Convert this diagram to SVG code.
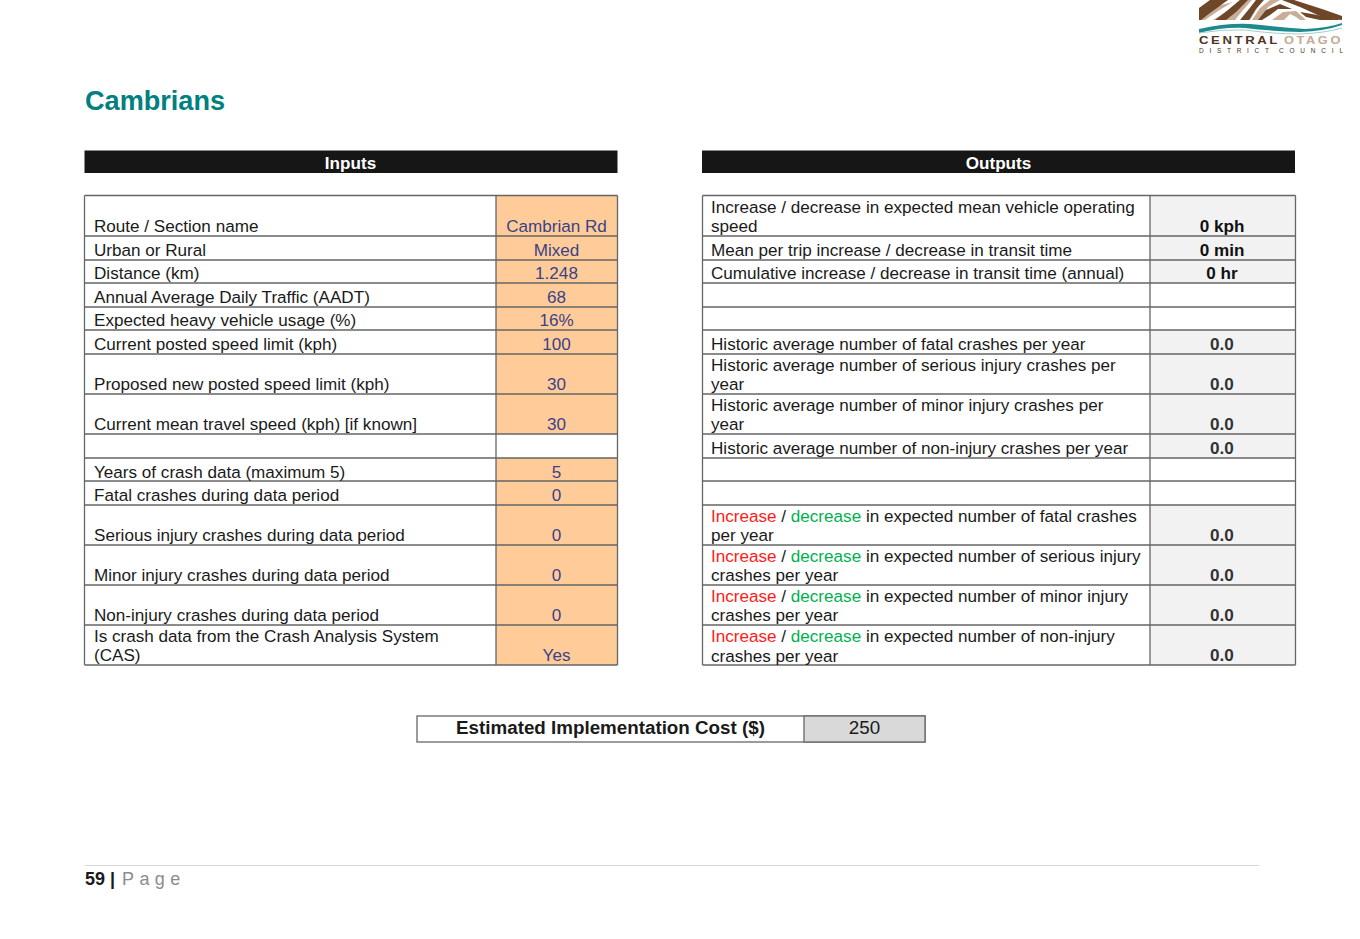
<svg xmlns="http://www.w3.org/2000/svg" width="1360" height="939" viewBox="0 0 1360 939">
<style>
text{font-family:"Liberation Sans",Arial,sans-serif;font-size:17.1px;fill:#1a1a1a}
.g{fill:none;stroke:#666;stroke-width:1.3}
.c{text-anchor:middle}
.v{text-anchor:middle;fill:#3b4285}
.b{font-weight:700}
.o{text-anchor:middle;font-weight:700;fill:#333}
.r{fill:#ff1a1a}
.n{fill:#00b050}
.h{fill:#fff;font-weight:700;text-anchor:middle}
.br{fill:#6e4628}
.tn{fill:#c8ae98}
</style>
<rect width="1360" height="939" fill="#fff"/>
<g id="logo">
<path class="tn" d="M1199 20 L1214 7 L1240 0 L1262 0 L1250 20Z"/>
<path class="br" d="M1199 8 L1210 0 L1228 0 L1210 13 L1201 20 L1199 20Z"/>
<path d="M1205 20 L1218 11 L1236 0 L1240 0 L1226 12 L1213 20Z" fill="#fff"/>
<path class="br" d="M1215 20 L1228 10 L1240 0 L1248 0 L1236 12 L1226 20Z"/>
<path d="M1235 20 L1243 10 L1252 0 L1256 0 L1248 12 L1241 20Z" fill="#fff"/>
<path class="br" d="M1240 20 L1249 9 L1256 0 L1264 0 L1256 9 L1249 20Z"/>
<path class="tn" d="M1252 20 L1260 8 L1270 0 L1280 0 L1268 7 L1260 20Z"/>
<path class="br" d="M1258 20 L1266 10 L1280 4 L1292 9 L1278 9 L1270 15 L1262 20Z"/>
<path class="br" d="M1282 0 L1294 0 L1322 9 L1342 16 L1342 20 L1322 17 L1300 7Z"/>
<path class="tn" d="M1272 20 L1283 12 L1296 11 L1306 20Z"/>
<path d="M1284 20 L1290 14 L1296 17 L1300 20Z" fill="#fff"/>
<path class="br" d="M1300 12 L1312 14 L1342 20 L1320 20 L1306 17Z"/>
<path d="M1199 29 Q1225 23 1250 24 Q1280 27 1305 29 Q1328 28 1342 23 L1342 25 Q1325 31 1300 32 Q1270 31 1245 28 Q1222 27 1199 33Z" fill="#1f8a8c"/>
<path d="M1199 33 Q1222 29 1245 30 Q1275 34 1300 34 Q1325 33 1342 28" fill="none" stroke="#9fcfcf" stroke-width="1"/>
<text x="1199" y="44" textLength="81" lengthAdjust="spacingAndGlyphs" style="font-size:10px;font-weight:700;letter-spacing:2px;fill:#4f3524">CENTRAL</text>
<text x="1284" y="44" textLength="59" lengthAdjust="spacingAndGlyphs" style="font-size:10px;font-weight:700;letter-spacing:2px;fill:#c4ab95">OTAGO</text>
<text x="1199" y="53" textLength="70" lengthAdjust="spacing" style="font-size:6.5px;fill:#4f3524">DISTRICT</text>
<text x="1279" y="53" textLength="64" lengthAdjust="spacing" style="font-size:6.5px;fill:#4f3524">COUNCIL</text>
</g>
<text id="title" x="85" y="110" class="b" style="font-size:27.1px;fill:#008080">Cambrians</text>
<g id="inputs-header"><rect x="84.500" y="150.500" width="533" height="22.500" fill="#161616"/><text x="350.500" y="169" class="h">Inputs</text></g>
<g id="outputs-header"><rect x="702" y="150.500" width="593" height="22.500" fill="#161616"/><text x="998.500" y="169" class="h">Outputs</text></g>
<g id="fills">
<rect x="496" y="196" width="121" height="238" fill="#ffcc99"/>
<rect x="496" y="458" width="121" height="207" fill="#ffcc99"/>
<rect x="1150" y="196" width="145" height="87" fill="#f2f2f2"/>
<rect x="1150" y="330" width="145" height="128" fill="#f2f2f2"/>
<rect x="1150" y="505" width="145" height="160" fill="#f2f2f2"/>
</g>
<g id="grid">
<path class="g" d="M84.500 195.500H617.500M84.500 236H617.500M84.500 260H617.500M84.500 283H617.500M84.500 307H617.500M84.500 330H617.500M84.500 354H617.500M84.500 394H617.500M84.500 434H617.500M84.500 458H617.500M84.500 481H617.500M84.500 505H617.500M84.500 545H617.500M84.500 585H617.500M84.500 625H617.500M84.500 665H617.500"/>
<path class="g" d="M702.500 195.500H1295.500M702.500 236H1295.500M702.500 260H1295.500M702.500 283H1295.500M702.500 307H1295.500M702.500 330H1295.500M702.500 354H1295.500M702.500 394H1295.500M702.500 434H1295.500M702.500 458H1295.500M702.500 481H1295.500M702.500 505H1295.500M702.500 545H1295.500M702.500 585H1295.500M702.500 625H1295.500M702.500 665H1295.500"/>
<path class="g" d="M84.500 195.500V665M496 195.500V665M617.500 195.500V665M702.500 195.500V665M1150 195.500V665M1295.500 195.500V665"/>
</g>
<g id="input-labels">
<text x="94" y="232">Route / Section name</text>
<text x="94" y="256">Urban or Rural</text>
<text x="94" y="279">Distance (km)</text>
<text x="94" y="303">Annual Average Daily Traffic (AADT)</text>
<text x="94" y="326">Expected heavy vehicle usage (%)</text>
<text x="94" y="350">Current posted speed limit (kph)</text>
<text x="94" y="390">Proposed new posted speed limit (kph)</text>
<text x="94" y="430">Current mean travel speed (kph) [if known]</text>
<text x="94" y="478">Years of crash data (maximum 5)</text>
<text x="94" y="501">Fatal crashes during data period</text>
<text x="94" y="541">Serious injury crashes during data period</text>
<text x="94" y="581">Minor injury crashes during data period</text>
<text x="94" y="621">Non-injury crashes during data period</text>
<text x="94" y="642">Is crash data from the Crash Analysis System</text>
<text x="94" y="661">(CAS)</text>
</g>
<g id="input-values">
<text x="556.500" y="232" class="v">Cambrian Rd</text>
<text x="556.500" y="256" class="v">Mixed</text>
<text x="556.500" y="279" class="v">1.248</text>
<text x="556.500" y="303" class="v">68</text>
<text x="556.500" y="326" class="v">16%</text>
<text x="556.500" y="350" class="v">100</text>
<text x="556.500" y="390" class="v">30</text>
<text x="556.500" y="430" class="v">30</text>
<text x="556.500" y="478" class="v">5</text>
<text x="556.500" y="501" class="v">0</text>
<text x="556.500" y="541" class="v">0</text>
<text x="556.500" y="581" class="v">0</text>
<text x="556.500" y="621" class="v">0</text>
<text x="556.500" y="661" class="v">Yes</text>
</g>
<g id="output-labels">
<text x="711" y="213">Increase / decrease in expected mean vehicle operating</text>
<text x="711" y="232">speed</text>
<text x="711" y="256">Mean per trip increase / decrease in transit time</text>
<text x="711" y="279">Cumulative increase / decrease in transit time (annual)</text>
<text x="711" y="350">Historic average number of fatal crashes per year</text>
<text x="711" y="371">Historic average number of serious injury crashes per</text>
<text x="711" y="390">year</text>
<text x="711" y="411">Historic average number of minor injury crashes per</text>
<text x="711" y="430">year</text>
<text x="711" y="454">Historic average number of non-injury crashes per year</text>
<text x="711" y="522"><tspan class="r">Increase</tspan> / <tspan class="n">decrease</tspan> in expected number of fatal crashes</text>
<text x="711" y="541">per year</text>
<text x="711" y="562"><tspan class="r">Increase</tspan> / <tspan class="n">decrease</tspan> in expected number of serious injury</text>
<text x="711" y="581">crashes per year</text>
<text x="711" y="602"><tspan class="r">Increase</tspan> / <tspan class="n">decrease</tspan> in expected number of minor injury</text>
<text x="711" y="621">crashes per year</text>
<text x="711" y="642"><tspan class="r">Increase</tspan> / <tspan class="n">decrease</tspan> in expected number of non-injury</text>
<text x="711" y="662">crashes per year</text>
</g>
<g id="output-values">
<text x="1222" y="232" class="o" style="fill:#111">0 kph</text>
<text x="1222" y="256" class="o" style="fill:#111">0 min</text>
<text x="1222" y="279" class="o" style="fill:#111">0 hr</text>
<text x="1222" y="350" class="o">0.0</text>
<text x="1222" y="390" class="o">0.0</text>
<text x="1222" y="430" class="o">0.0</text>
<text x="1222" y="454" class="o">0.0</text>
<text x="1222" y="541" class="o">0.0</text>
<text x="1222" y="581" class="o">0.0</text>
<text x="1222" y="621" class="o">0.0</text>
<text x="1222" y="661" class="o">0.0</text>
</g>
<g id="cost">
<rect x="417" y="716" width="508" height="26" fill="#fff" stroke="#666" stroke-width="1.3"/>
<rect x="804" y="716" width="121" height="26" fill="#d9d9d9" stroke="#666" stroke-width="1.3"/>
<text x="610.500" y="734" class="c b" style="font-size:18.800px">Estimated Implementation Cost ($)</text>
<text x="864.500" y="734" class="c" style="font-size:18.800px">250</text>
</g>
<g id="footer">
<path d="M85 865.500H1259" stroke="#d9d9d9" stroke-width="1" fill="none"/>
<text x="85" y="885" class="b" style="font-size:18px">59 |</text>
<text x="122" y="885" style="font-size:18px;fill:#8c8c8c;letter-spacing:5.4px">Page</text>
</g>
</svg>
